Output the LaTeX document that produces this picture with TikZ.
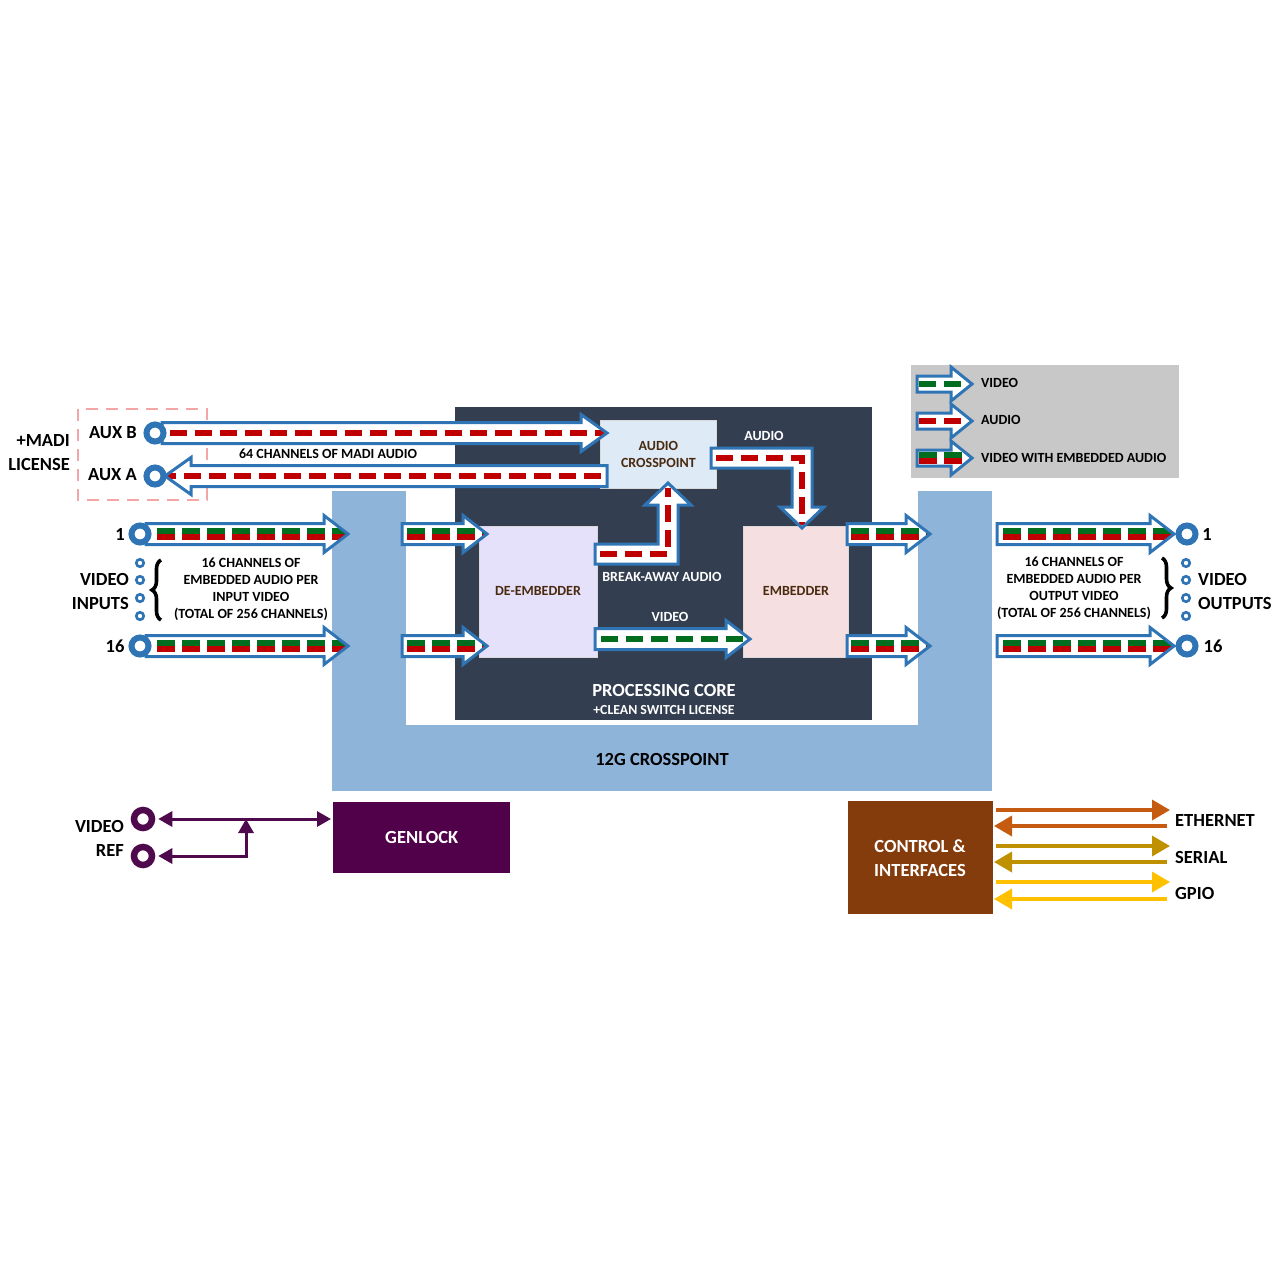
\documentclass[tikz,border=0pt]{standalone}
\usepackage{fontspec}
\setmainfont{Carlito}
\usetikzlibrary{arrows.meta,decorations.pathreplacing}
\definecolor{core}{HTML}{333F50}
\definecolor{xpt}{HTML}{8EB4D9}
\definecolor{acx}{HTML}{DEEBF7}
\definecolor{demb}{HTML}{E6E1FA}
\definecolor{emb}{HTML}{F5DFE1}
\definecolor{legbg}{HTML}{C8C8C8}
\definecolor{madi}{HTML}{F4A6A6}
\definecolor{ablue}{HTML}{2F75B5}
\definecolor{ared}{HTML}{C00000}
\definecolor{agreen}{HTML}{006E1E}
\definecolor{gen}{HTML}{51004A}
\definecolor{purp}{HTML}{4E0A4C}
\definecolor{ctrl}{HTML}{843C0C}
\definecolor{eth}{HTML}{C55A11}
\definecolor{ser}{HTML}{BF9000}
\definecolor{gpio}{HTML}{FFC000}
\definecolor{lbl}{HTML}{4A2A0E}
\newcommand\fbig{\fontsize{18.5}{24}\selectfont\bfseries}
\newcommand\fsm{\fontsize{14}{17}\selectfont\bfseries}
\def\bh{10.5}\def\hh{18.5}\def\hl{24}
\newcommand\blk[2]{\fill[white] #1; \begin{scope}\clip #1; #2\end{scope}\draw[aout] #1;}
\newcommand\dA[3]{\draw[ared, line width=6.5, dash pattern=on 17 off 8] (#1,#3) -- (#2,#3);}
\newcommand\dV[3]{\draw[agreen, line width=6.5, dash pattern=on 17 off 8] (#1,#3) -- (#2,#3);}
\newcommand\dE[3]{\draw[agreen, line width=6, dash pattern=on 18 off 7] (#1,#3-3.2) -- (#2,#3-3.2);
  \draw[ared, line width=6, dash pattern=on 18 off 7] (#1,#3+3.2) -- (#2,#3+3.2);}
\newcommand\ArrR[5]{\blk{(#1,#3-\bh) -- (#2-\hl,#3-\bh) -- (#2-\hl,#3-\hh) -- (#2,#3) -- (#2-\hl,#3+\hh) -- (#2-\hl,#3+\bh) -- (#1,#3+\bh) -- cycle}{#4{#1+#5}{#2-3}{#3}}}
\newcommand\ArrL[4]{\blk{(#1,#3-\bh) -- (#2+\hl,#3-\bh) -- (#2+\hl,#3-\hh) -- (#2,#3) -- (#2+\hl,#3+\hh) -- (#2+\hl,#3+\bh) -- (#1,#3+\bh) -- cycle}{#4{#1-6}{#2+3}{#3}}}
\begin{document}
\begin{tikzpicture}[x=1pt,y=-1pt,
  aout/.style={draw=ablue, line width=3, line join=miter},
  ring/.style={circle, draw=ablue, fill=white, line width=6, minimum size=17, inner sep=0},
  sring/.style={circle, draw=ablue, fill=white, line width=2.6, minimum size=7.5, inner sep=0},
  pring/.style={circle, draw=purp, fill=white, line width=6.5, minimum size=18, inner sep=0},
  boxlbl/.style={text=lbl, font=\fsm, inner sep=0},
  wsm/.style={text=white, font=\fsm, inner sep=0},
  bsm/.style={text=black, font=\fsm, inner sep=0, align=center},
  big/.style={text=black, font=\fbig, inner sep=0},
  purpline/.style={draw=purp, line width=3},
  cline/.style={line width=3.5},
  brc/.style={decorate, decoration={brace, amplitude=9}, line width=3.6, draw=black}
]
\useasboundingbox (0,0) rectangle (1280,1280);
\fill[white] (0,0) rectangle (1280,1280);

% 12G crosspoint (U shape)
\fill[xpt] (332,491) rectangle (992,791);
\fill[white] (406,491) rectangle (918,725);
\node[big] (xlabel) at (662,759) {12G CROSSPOINT};

% processing core
\node[fill=core, minimum width=417, minimum height=313, anchor=north west, inner sep=0] (core) at (455,407) {};
\node[text=white, font=\fbig, inner sep=0] (pcl) at (664,690) {PROCESSING CORE};
\node[text=white, font=\fontsize{13.8}{15}\selectfont\bfseries, inner sep=0] (csl) at (664,710) {+CLEAN SWITCH LICENSE};

% inner boxes
\node[fill=acx, draw=white!70!gray, line width=0.8, minimum width=116, minimum height=68, anchor=north west, inner sep=0] (acxp) at (600,420) {};
\node[boxlbl, align=center] at (acxp.center) {AUDIO\\CROSSPOINT};
\node[fill=demb, draw=white!70!gray, line width=0.8, minimum width=118, minimum height=131, anchor=north west, inner sep=0] (demb) at (479,526) {};
\node[boxlbl] at (538,591) {DE-EMBEDDER};
\node[fill=emb, draw=white!70!gray, line width=0.8, minimum width=105, minimum height=131, anchor=north west, inner sep=0] (embd) at (743,526) {};
\node[boxlbl] at (796,591) {EMBEDDER};

% MADI license box
\draw[madi, line width=2.8, dash pattern=on 12 off 8] (78,409) rectangle (207,500);
\node[big, align=right, anchor=east] (madil) at (70,453) {+MADI\\LICENSE};
\node[big, anchor=east] (auxbl) at (137,433) {AUX B};
\node[big, anchor=east] (auxal) at (137,475) {AUX A};

% MADI arrows
\def\hl{26}
\ArrR{162}{607}{433}{\dA}{8}
\ArrL{607}{165}{476}{\dA}
\def\hl{24}
\node[bsm] (madit) at (328,454) {64 CHANNELS OF MADI AUDIO};
\node[ring] (auxb) at (155,433) {};
\node[ring] (auxa) at (155,476) {};

% audio crosspoint -> embedder
\blk{(711,448) -- (812,448) -- (812,507) -- (824,507) -- (802,528) -- (780,507) -- (792,507) -- (792,468) -- (711,468) -- cycle}{\draw[ared, line width=6.5, dash pattern=on 17 off 8] (716,458) -- (802,458) -- (802,525);}
\node[wsm] (audl) at (764,436) {AUDIO};
% break-away audio
\blk{(595,544) -- (658,544) -- (658,505) -- (645,505) -- (668,483) -- (691,505) -- (678,505) -- (678,564) -- (595,564) -- cycle}{\draw[ared, line width=6.5, dash pattern=on 17 off 8] (600,554) -- (668,554) -- (668,488);}
\node[wsm] (bal) at (662,577) {BREAK-AWAY AUDIO};
% video de-embedder -> embedder
\ArrR{595}{750}{639}{\dV}{6}
\node[wsm] (vidl) at (670,617) {VIDEO};

% input arrows
\ArrR{146}{348}{534}{\dE}{11}
\ArrR{146}{348}{646}{\dE}{11}
\ArrR{402}{487}{534}{\dE}{5}
\ArrR{402}{487}{646}{\dE}{5}
\ArrR{847}{930}{534}{\dE}{4}
\ArrR{847}{930}{646}{\dE}{4}
\ArrR{997}{1174}{534}{\dE}{6}
\ArrR{997}{1174}{646}{\dE}{6}

% input ports
\node[ring] (in1) at (140,534) {};
\node[ring] (in16) at (140,646) {};
\foreach \yy/\nm in {563/a,580/b,598/c,616/d} \node[sring] (is\nm) at (140,\yy) {};
\node[big] (in1l) at (120,534) {1};
\node[big] (in16l) at (115,646) {16};
\node[big, align=right, anchor=east] (vinl) at (129,591) {VIDEO\\INPUTS};
\draw[brc] (161,620) -- (161,560);
\node[bsm] (intext) at (251,589) {16 CHANNELS OF\\EMBEDDED AUDIO PER\\INPUT VIDEO\\(TOTAL OF 256 CHANNELS)};

% output ports
\node[ring] (out1) at (1187,534) {};
\node[ring] (out16) at (1187,646) {};
\foreach \yy/\nm in {563/a,580/b,598/c,616/d} \node[sring] (os\nm) at (1186,\yy) {};
\node[big] (out1l) at (1207,534) {1};
\node[big] (out16l) at (1213,646) {16};
\node[big, align=left, anchor=west] (voutl) at (1198,591) {VIDEO\\OUTPUTS};
\draw[brc] (1162,558) -- (1162,618);
\node[bsm] (outtext) at (1074,588) {16 CHANNELS OF\\EMBEDDED AUDIO PER\\OUTPUT VIDEO\\(TOTAL OF 256 CHANNELS)};

% legend
\node[fill=legbg, minimum width=268, minimum height=113, anchor=north west, inner sep=0] (leg) at (911,365) {};
\def\bh{8}\def\hh{17}\def\hl{21}
\ArrR{917}{972}{384}{\dV}{2}
\ArrR{917}{972}{421}{\dA}{2}
\ArrR{917}{972}{458}{\dE}{2}
\def\bh{10.5}\def\hh{18.5}\def\hl{24}
\node[boxlbl, text=black, anchor=west] (lg1) at (981,383) {VIDEO};
\node[boxlbl, text=black, anchor=west] (lg2) at (981,420) {AUDIO};
\node[boxlbl, text=black, anchor=west] (lg3) at (981,458) {VIDEO WITH EMBEDDED AUDIO};

% genlock
\node[fill=gen, minimum width=177, minimum height=71, anchor=north west, inner sep=0] (genl) at (333,802) {};
\node[text=white, font=\fbig, inner sep=0] at (genl.center) {GENLOCK};
\node[pring] (vr1) at (143,819) {};
\node[pring] (vr2) at (143,856) {};
\node[big, align=right, anchor=east] (vrl) at (124,838) {VIDEO\\REF};
\coordinate (jn) at (246,819);
\coordinate (gin) at (331,819);
\draw[purpline, {Triangle[length=14, width=15]}-{Triangle[length=14, width=15]}, shorten <=3] (vr1.east) -- (gin);
\draw[purpline, {Triangle[length=14, width=15]}-{Triangle[length=14, width=15]}, shorten <=3] (vr2.east) -| (jn);

% control & interfaces
\node[fill=ctrl, minimum width=145, minimum height=113, anchor=north west, inner sep=0] (ctl) at (848,801) {};
\node[text=white, font=\fbig, inner sep=0, align=center] at (920,858) {CONTROL \&\\INTERFACES};
\coordinate (e1a) at (996,810); \coordinate (e1b) at (1170,810);
\coordinate (e2a) at (1167,826); \coordinate (e2b) at (994,826);
\coordinate (s1a) at (996,846); \coordinate (s1b) at (1170,846);
\coordinate (s2a) at (1167,862); \coordinate (s2b) at (994,862);
\coordinate (g1a) at (996,882); \coordinate (g1b) at (1170,882);
\coordinate (g2a) at (1167,899); \coordinate (g2b) at (994,899);
\draw[cline, eth, -{Triangle[length=18, width=20]}] (e1a) -- (e1b);
\draw[cline, eth, -{Triangle[length=18, width=20]}] (e2a) -- (e2b);
\draw[cline, ser, -{Triangle[length=18, width=20]}] (s1a) -- (s1b);
\draw[cline, ser, -{Triangle[length=18, width=20]}] (s2a) -- (s2b);
\draw[cline, gpio, -{Triangle[length=18, width=20]}] (g1a) -- (g1b);
\draw[cline, gpio, -{Triangle[length=18, width=20]}] (g2a) -- (g2b);
\node[big, anchor=west] (ethl) at (1175,820) {ETHERNET};
\node[big, anchor=west] (serl) at (1175,857) {SERIAL};
\node[big, anchor=west] (gpiol) at (1175,893) {GPIO};
\end{tikzpicture}
\end{document}
